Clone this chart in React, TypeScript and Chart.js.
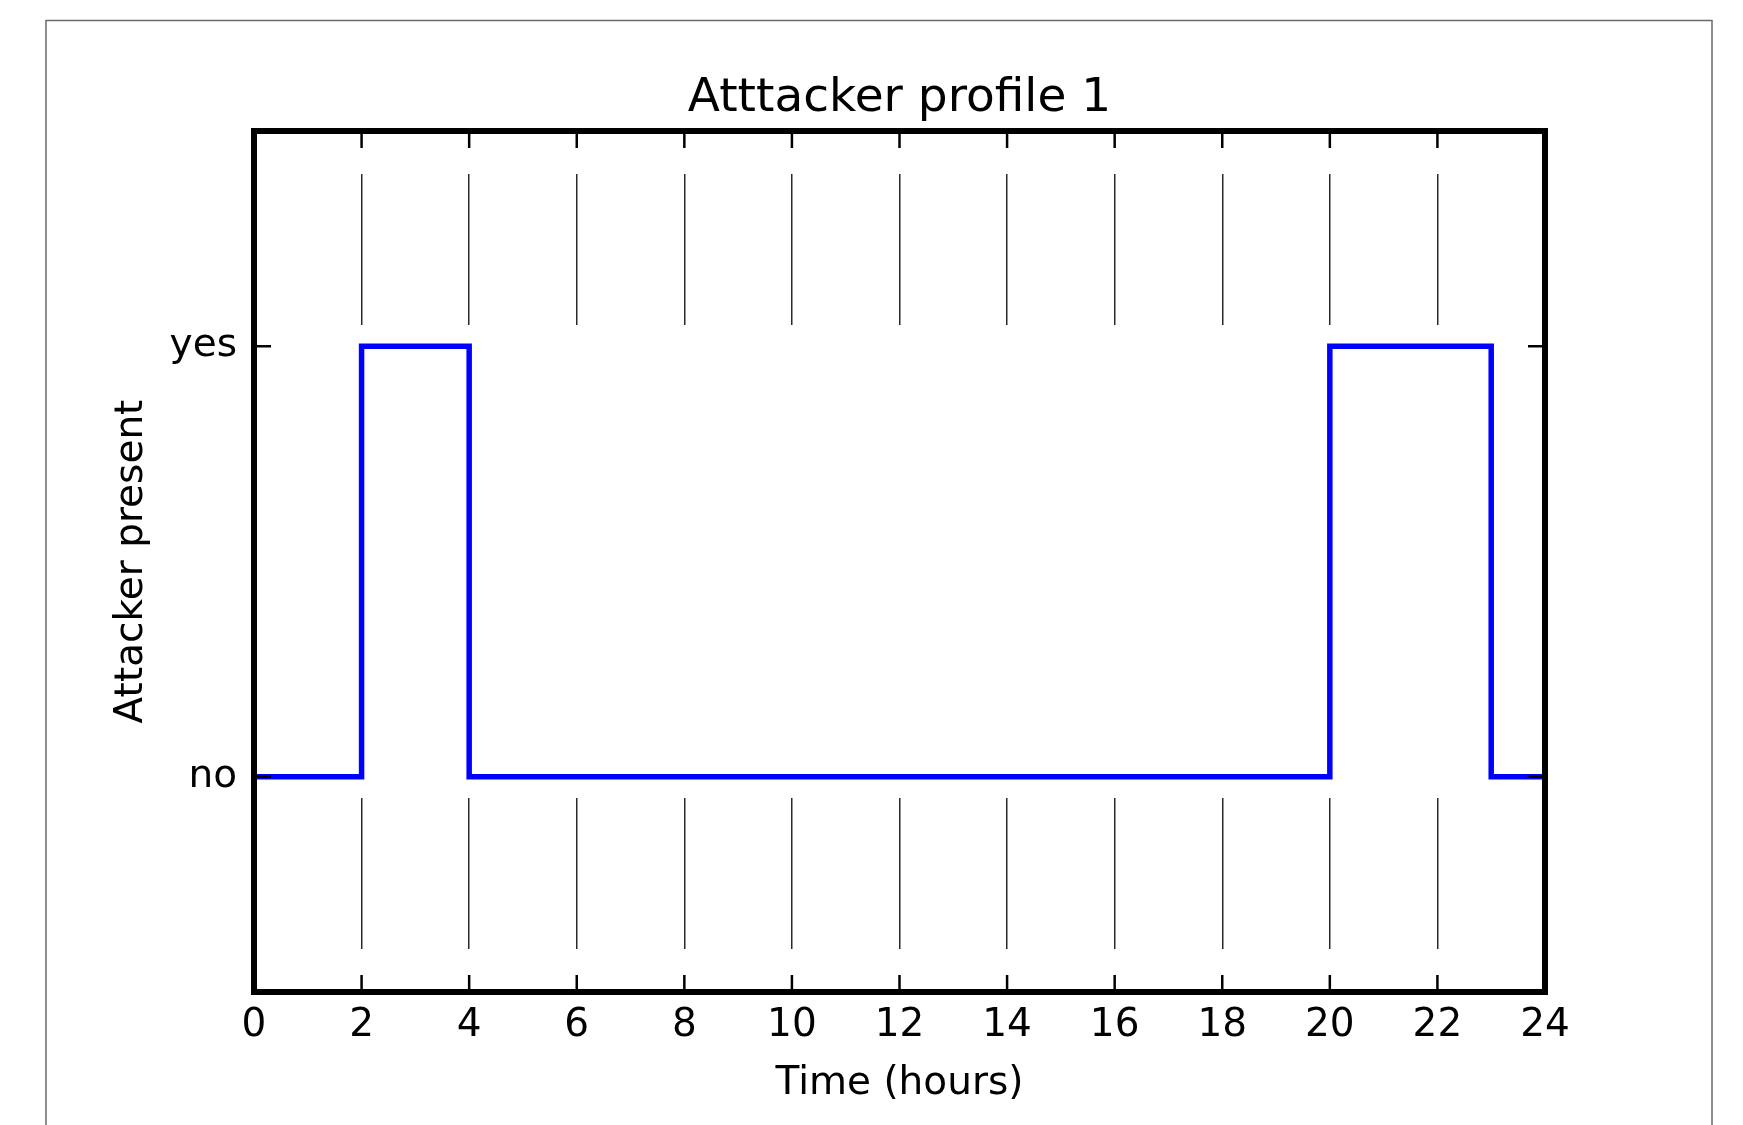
import React, { useEffect, useRef } from 'react';
import { Chart, registerables } from 'chart.js';

Chart.register(...registerables);

const TITLE = 'Atttacker profile 1';
const X_LABEL = 'Time (hours)';
const Y_LABEL = 'Attacker present';

// Change points of the attacker presence (step function, value holds until next point)
const hours = [0, 2, 4, 20, 23, 24];
const present = [0, 1, 0, 1, 0, 0];

const stateValues = [0, 1];
const stateLabels = ['no', 'yes'];

const X_MIN = 0;
const X_MAX = 24;
const X_STEP = 2;
const Y_MIN = -0.5;
const Y_MAX = 1.5;

const FONT = 'DejaVu Sans';

const framePlugin = {
  id: 'mplFrame',
  beforeDraw(chart: any) {
    const ctx = chart.ctx;
    ctx.save();
    ctx.fillStyle = '#ffffff';
    ctx.fillRect(0, 0, chart.width, chart.height);
    ctx.strokeStyle = '#6a6a6a';
    ctx.lineWidth = 1.5;
    ctx.strokeRect(46, 20.5, 1666, chart.height + 40);
    ctx.restore();
  },
  afterDatasetsDraw(chart: any) {
    const { ctx, chartArea: a, scales } = chart;
    const L = 17;
    ctx.save();
    ctx.strokeStyle = '#000000';
    ctx.lineWidth = 2.5;
    const seg = (x1: number, y1: number, x2: number, y2: number) => {
      ctx.beginPath();
      ctx.moveTo(x1, y1);
      ctx.lineTo(x2, y2);
      ctx.stroke();
    };
    scales.x.ticks.forEach((t: any) => {
      const px = scales.x.getPixelForValue(t.value);
      seg(px, a.top, px, a.top + L);
      seg(px, a.bottom - L, px, a.bottom);
    });
    scales.y.ticks.forEach((t: any) => {
      const py = scales.y.getPixelForValue(t.value);
      seg(a.left, py, a.left + L, py);
      seg(a.right - L, py, a.right, py);
    });
    ctx.lineWidth = 6;
    ctx.strokeRect(a.left, a.top, a.right - a.left, a.bottom - a.top);
    ctx.restore();
  },
};

export default function App() {
  const canvasRef = useRef<HTMLCanvasElement | null>(null);

  useEffect(() => {
    if (!canvasRef.current) return;
    const data = hours.map((h, i) => ({ x: h, y: present[i] }));
    const chart = new Chart(canvasRef.current, {
      type: 'line',
      data: {
        datasets: [
          {
            label: 'Attacker present',
            data,
            stepped: true,
            borderColor: '#0000ff',
            backgroundColor: '#0000ff',
            borderWidth: 5.5,
            pointRadius: 0,
            fill: false,
            borderJoinStyle: 'miter',
            borderCapStyle: 'butt',
          },
        ],
      },
      options: {
        animation: false,
        responsive: false,
        maintainAspectRatio: false,
        layout: { padding: { left: 0, right: 198, top: 0, bottom: 0 } },
        plugins: {
          legend: { display: false },
          tooltip: { enabled: false },
          title: {
            display: true,
            text: TITLE,
            fullSize: false,
            color: '#000000',
            font: { family: FONT, size: 47, weight: 'normal', lineHeight: 1 },
            padding: { top: 75.5, bottom: 8.5 },
          },
        },
        scales: {
          x: {
            type: 'linear',
            min: X_MIN,
            max: X_MAX,
            afterFit: (s: any) => {
              s.height = 133;
            },
            ticks: {
              stepSize: X_STEP,
              autoSkip: false,
              maxRotation: 0,
              color: '#000000',
              padding: 10,
              font: { family: FONT, size: 39 },
            },
            grid: {
              display: true,
              drawOnChartArea: true,
              drawTicks: false,
              color: '#2a2a2a',
              lineWidth: 1.5,
            },
            border: { display: false, dash: [151, 473], dashOffset: 581 },
            title: {
              display: true,
              text: X_LABEL,
              color: '#000000',
              font: { family: FONT, size: 39 },
              padding: { top: 0, bottom: 18 },
            },
          },
          y: {
            type: 'linear',
            min: Y_MIN,
            max: Y_MAX,
            afterFit: (s: any) => {
              s.width = 254;
            },
            afterBuildTicks: (s: any) => {
              s.ticks = stateValues.map((v) => ({ value: v }));
            },
            ticks: {
              color: '#000000',
              padding: 17,
              font: { family: FONT, size: 39 },
              callback: (v: any) => {
                const i = stateValues.indexOf(Number(v));
                return i >= 0 ? stateLabels[i] : '';
              },
            },
            grid: { display: false, drawTicks: false },
            border: { display: false },
            title: {
              display: true,
              text: Y_LABEL,
              color: '#000000',
              font: { family: FONT, size: 39 },
              padding: { top: 108, bottom: 0 },
            },
          },
        },
      },
      plugins: [framePlugin],
    } as any);
    return () => chart.destroy();
  }, []);

  return (
    <div style={{ position: 'fixed', left: 0, top: 0, width: 1743, height: 1125, background: '#fff' }}>
      <canvas ref={canvasRef} width={1743} height={1125} style={{ display: 'block' }} />
    </div>
  );
}
